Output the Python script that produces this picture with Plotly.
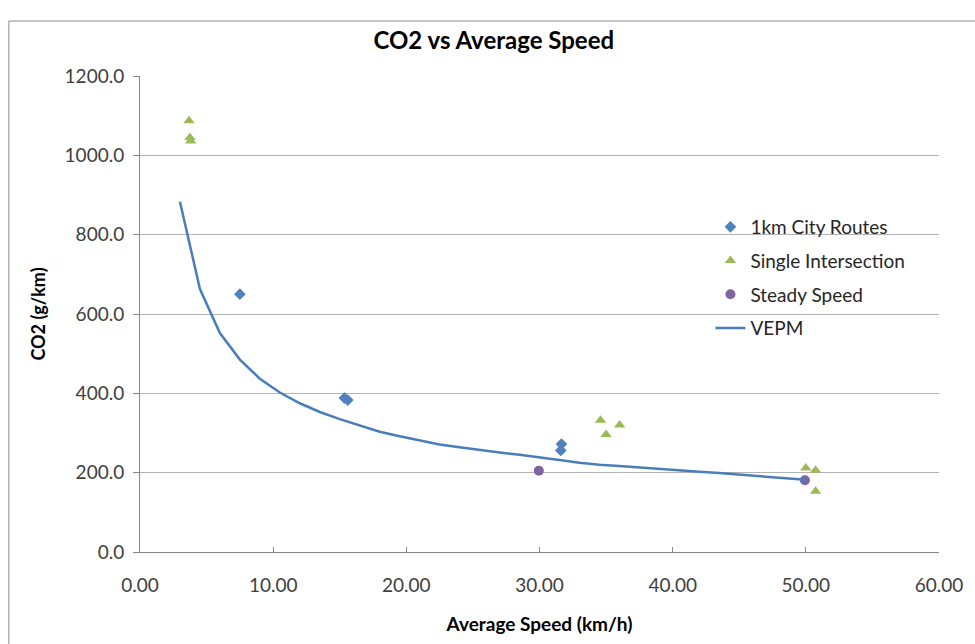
import plotly.graph_objects as go

# 1km city route runs
city_speed = [7.5, 15.35, 15.6, 31.65, 31.6]
city_co2 = [650, 388, 383, 272, 256]

# Single intersection runs
inter_speed = [3.68, 3.75, 3.8, 34.58, 36.02, 35.0, 50.0, 50.73, 50.73]
inter_co2 = [1087, 1045, 1036, 332, 320, 296, 212, 206, 153]

# Steady speed runs
steady_speed = [29.95, 49.93]
steady_co2 = [205, 181]

# VEPM model curve
vepm_speed = [3, 4.5, 6, 7.5, 9, 10.5, 12, 13.5, 15, 16.5, 18, 19.5, 21, 22.5,
              24, 25.5, 27, 28.5, 30, 31.5, 33, 34.5, 36, 37.5, 39, 40.5, 42,
              43.5, 45, 46.5, 48, 50]
vepm_co2 = [883, 663, 552, 485, 437, 402, 375, 353, 335, 319, 303, 292, 281, 271,
            264, 257, 251, 245, 239, 232, 225, 220, 217, 213, 209, 205, 202,
            199, 195, 191, 187, 182]

x_ticks = [0, 10, 20, 30, 40, 50, 60]
y_ticks = [0, 200, 400, 600, 800, 1000, 1200]

FONT = "Lato"
TICK_COLOR = "#404040"

fig = go.Figure()
fig.add_trace(go.Scatter(
    x=city_speed, y=city_co2, mode="markers", name="1km City Routes",
    legendgroup="a",
    marker=dict(symbol="diamond", size=9, color="#4F81BD"),
))
fig.add_trace(go.Scatter(
    x=inter_speed, y=inter_co2, mode="markers", name="Single Intersection",
    legendgroup="b",
    marker=dict(symbol="triangle-up", size=10, color="#9BBB59"),
))
fig.add_trace(go.Scatter(
    x=steady_speed, y=steady_co2, mode="markers", name="Steady Speed",
    legendgroup="c",
    marker=dict(symbol="circle", size=10, color="#8064A2"),
))
fig.add_trace(go.Scatter(
    x=vepm_speed, y=vepm_co2, mode="lines", name="VEPM",
    legendgroup="d",
    line=dict(color="#4A7EBB", width=2.5),
))

# Plot area spans pixels x 140..944, y 76..552
L, R, T, B = 140, 31, 76, 92
W, H = 975, 644
pw, ph = W - L - R, H - T - B


def px_to_paper_x(px):
    return (px - L) / pw


def px_to_paper_y(py):
    return (H - B - py) / ph


fig.update_layout(
    width=W, height=H,
    margin=dict(l=L, r=R, t=T, b=B, pad=0),
    paper_bgcolor="white", plot_bgcolor="white",
    font=dict(family=FONT, color=TICK_COLOR),
    title=dict(
        text="<b>CO2 vs Average Speed</b>",
        font=dict(family=FONT, size=24, color="black"),
        x=px_to_paper_x(496), xref="paper", xanchor="center",
        y=1 - 41 / H, yanchor="middle",
    ),
    showlegend=True,
    legend=dict(
        x=px_to_paper_x(714), y=px_to_paper_y(208),
        xanchor="left", yanchor="top",
        font=dict(family=FONT, size=19, color="#262626"),
        bgcolor="rgba(0,0,0,0)",
        tracegroupgap=6,
        itemwidth=30,
    ),
    xaxis=dict(
        range=[0, 60], tickvals=x_ticks, tickformat=".2f",
        showgrid=False, zeroline=False,
        showline=True, linecolor="#868686", linewidth=1,
        ticks="inside", ticklen=5, tickcolor="#868686",
        tickfont=dict(family=FONT, size=19, color=TICK_COLOR),
        ticklabelstandoff=16,
        title=dict(text="<b>Average Speed (km/h)</b>",
                   font=dict(family=FONT, size=19, color="black"),
                   standoff=22),
    ),
    yaxis=dict(
        range=[0, 1200], tickvals=y_ticks, tickformat=".1f",
        showgrid=True, gridcolor="#B3B3B3", gridwidth=1, zeroline=False,
        showline=True, linecolor="#868686", linewidth=1,
        ticks="outside", ticklen=6, tickcolor="#868686",
        tickfont=dict(family=FONT, size=19, color=TICK_COLOR),
        ticklabelstandoff=5,
        title=dict(text="<b>CO2 (g/km)</b>",
                   font=dict(family=FONT, size=18, color="black"),
                   standoff=14),
    ),
    shapes=[dict(
        type="rect", xref="paper", yref="paper",
        x0=px_to_paper_x(8), x1=px_to_paper_x(1000),
        y0=px_to_paper_y(700), y1=px_to_paper_y(21),
        line=dict(color="#8C8C8C", width=1), fillcolor="rgba(0,0,0,0)",
        layer="below",
    )],
)

fig.write_html("out.html")
